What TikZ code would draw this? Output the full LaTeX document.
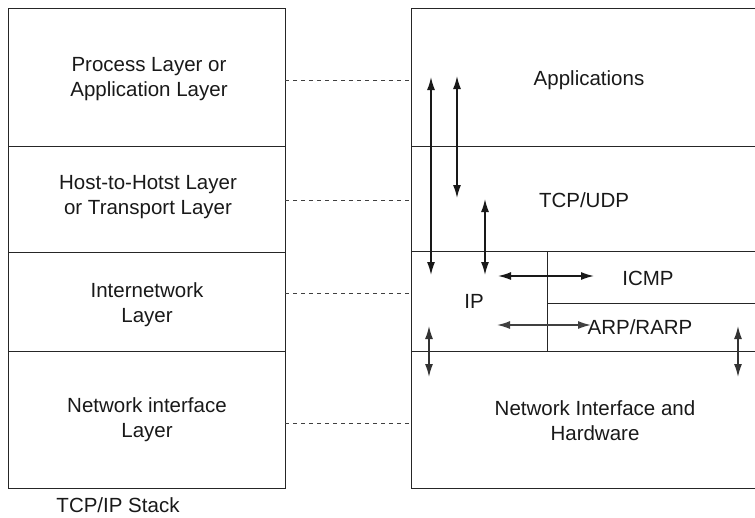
\documentclass[tikz,border=0pt]{standalone}
\usepackage{fontspec}
\setmainfont{Liberation Sans}
\usetikzlibrary{arrows.meta}
\begin{document}
\begin{tikzpicture}[x=1pt,y=-1pt,
  box/.style={draw=black!85, line width=0.9pt, inner sep=0pt, anchor=north west},
  lbl/.style={font=\fontsize{20.5}{25}\selectfont, align=center, text=black!90, inner sep=0pt},
  link/.style={draw=black!75, dash pattern=on 4pt off 4pt, line width=0.8pt},
  dbl/.style={{Latex[length=13pt,width=8pt]}-{Latex[length=13pt,width=8pt]}, line width=1.5pt, draw=black!90},
]
\useasboundingbox (0,0) rectangle (755,517);
\clip (0,0) rectangle (755,517);
% left stack
\node[box, minimum width=277pt, minimum height=138pt] (L1) at (8,8) {};
\node[box, minimum width=277pt, minimum height=106pt] (L2) at (8,146) {};
\node[box, minimum width=277pt, minimum height=99pt]  (L3) at (8,252) {};
\node[box, minimum width=277pt, minimum height=137pt] (L4) at (8,351) {};
% right stack (open at right)
\node[box, minimum width=400pt, minimum height=138pt] (R1) at (411,8) {};
\node[box, minimum width=400pt, minimum height=105pt] (R2) at (411,146) {};
\node[box, minimum width=136pt, minimum height=100pt] (R3) at (411,251) {};
\node[box, minimum width=300pt, minimum height=52pt]  (R3a) at (547,251) {};
\node[box, minimum width=300pt, minimum height=48pt]  (R3b) at (547,303) {};
\node[box, minimum width=400pt, minimum height=137pt] (R4) at (411,351) {};
% left labels
\node[lbl] (t1) at (149,79) {Process Layer or\\Application Layer};
\node[lbl] (t2) at (148,197) {Host-to-Hotst Layer\\or Transport Layer};
\node[lbl] (t3) at (147,305) {Internetwork\\Layer};
\node[lbl] (t4) at (147,420) {Network interface\\Layer};
\node[lbl] (cap) at (118,505) {TCP/IP Stack};
% right labels
\node[lbl] (a1) at (589,80) {Applications};
\node[lbl] (a2) at (584,200) {TCP/UDP};
\node[lbl] (a3) at (474,301) {IP};
\node[lbl] (a4) at (648,278) {ICMP};
\node[lbl] (a5) at (640,327) {ARP/RARP};
\node[lbl] (a6) at (595,421) {Network Interface and\\Hardware};
% dashed correspondences
\coordinate (d1) at (285,80);
\coordinate (d2) at (285,200);
\coordinate (d3) at (285,293);
\coordinate (d4) at (285,423);
\draw[link] (d1) -- (d1 -| R1.west);
\draw[link] (d2) -- (d2 -| R2.west);
\draw[link] (d3) -- (d3 -| R3.west);
\draw[link] (d4) -- (d4 -| R4.west);
% arrows
\coordinate (p1a) at (431,77);  \coordinate (p1b) at (431,275);
\coordinate (p2a) at (457,76);  \coordinate (p2b) at (457,198);
\coordinate (p3a) at (485,199); \coordinate (p3b) at (485,275);
\coordinate (h1a) at (498,276); \coordinate (h1b) at (594,276);
\coordinate (h2a) at (497,325); \coordinate (h2b) at (591,325);
\coordinate (v1a) at (429,326); \coordinate (v1b) at (429,377);
\coordinate (v2a) at (738,326); \coordinate (v2b) at (738,377);
\draw[dbl] (p1a) -- (p1b);
\draw[dbl] (p2a) -- (p2b);
\draw[dbl] (p3a) -- (p3b);
\draw[dbl] (h1a) -- (h1b);
\draw[dbl, draw=black!75] (h2a) -- (h2b);
\draw[dbl, draw=black!80] (v1a) -- (v1b);
\draw[dbl, draw=black!80] (v2a) -- (v2b);
\end{tikzpicture}
\end{document}
